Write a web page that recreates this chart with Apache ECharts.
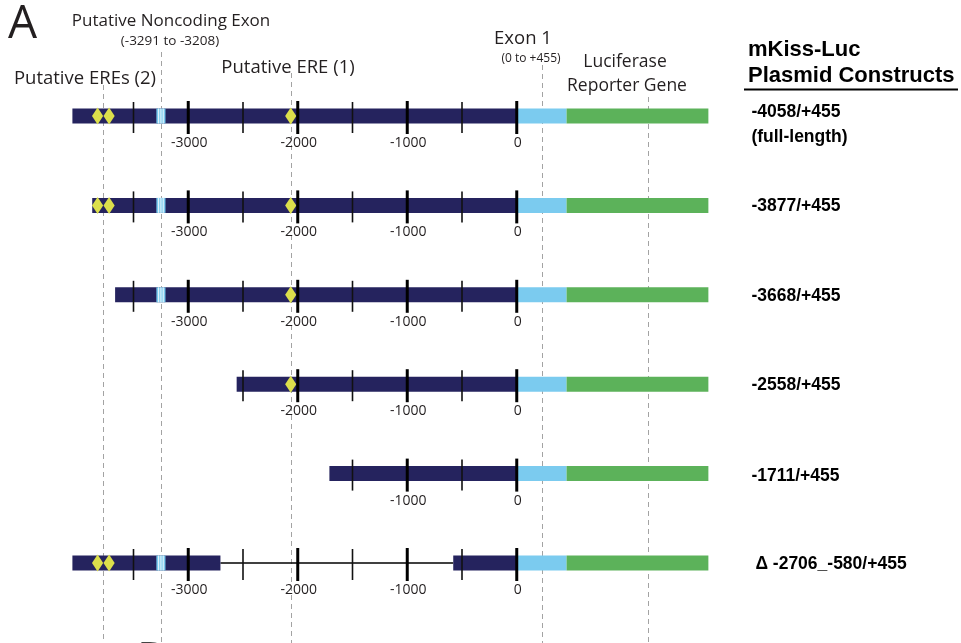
<!DOCTYPE html>
<html>
<head>
<meta charset="utf-8">
<script src="https://cdn.jsdelivr.net/npm/echarts@6/dist/echarts.min.js"></script>
<style>
  html, body { margin: 0; padding: 0; background: #ffffff; }
  #chart { width: 961px; height: 643px; }
</style>
</head>
<body>
<div id="chart"></div>
<script>
// mKiss-Luc reporter constructs; coordinates are bp relative to the transcription start
const constructNames = ['-4058/+455', '-3877/+455', '-3668/+455', '-2558/+455', '-1711/+455', 'Δ -2706_-580/+455'];
const constructNotes = ['(full-length)', '', '', '', '', ''];
const promoterStart = [-4058, -3877, -3668, -2558, -1711, -4058];
const deletionFrom = [null, null, null, null, null, -2706];
const deletionTo = [null, null, null, null, null, -580];
const exon1 = [0, 455];
const luciferaseEnd = 1750;
const noncodingExon = [-3291, -3208];
const ereSites = [-3828, -3723, -2064];
const majorTicks = [-3000, -2000, -1000, 0];
const majorTickLabels = ['-3000', '-2000', '-1000', '0'];
const minorTicks = [-3500, -2500, -1500, -500];
const reporterMark = 1200;

// guide lines marking the annotated features
const guideValues = [
  (ereSites[0] + ereSites[1]) / 2,
  (noncodingExon[0] + noncodingExon[1]) / 2,
  ereSites[2],
  (exon1[0] + exon1[1]) / 2,
  reporterMark
];

// styling
const NAVY = '#25235e';
const SKY = '#7bcbef';
const GREEN = '#5cb25a';
const YELLOW = '#dcdf4b';
const INK = '#231f20';
const GUIDE = '#a3a3a3';
const guideTops = [85, 52, 73, 65, 97];
const BAR_H = 15;

const chart = echarts.init(document.getElementById('chart'), null, { renderer: 'canvas' });

function renderGuide(params, api) {
  const x = Math.round(api.coord([api.value(0), 0])[0]) + 0.5;
  return {
    type: 'line',
    shape: { x1: x, y1: guideTops[params.dataIndex], x2: x, y2: api.getHeight() },
    style: { stroke: GUIDE, lineWidth: 1, lineDash: [5, 4] }
  };
}

function renderConstruct(params, api) {
  const i = api.value(1);
  const start = api.value(0);
  const px = v => api.coord([v, i])[0];
  const cy = api.coord([0, i])[1];
  const kids = [];
  const box = (a, b, fill) => ({
    type: 'rect',
    shape: { x: px(a), y: cy - BAR_H / 2, width: px(b) - px(a), height: BAR_H },
    style: { fill: fill }
  });
  const delA = deletionFrom[i];
  const delB = deletionTo[i];
  const deleted = v => delA != null && v > delA && v < delB;

  if (delA != null) {
    kids.push({
      type: 'line',
      shape: { x1: px(delA), y1: cy, x2: px(delB), y2: cy },
      style: { stroke: '#000', lineWidth: 1.3 }
    });
    kids.push(box(start, delA, NAVY), box(delB, exon1[0], NAVY));
  } else {
    kids.push(box(start, exon1[0], NAVY));
  }
  kids.push(box(exon1[0], exon1[1], SKY), box(exon1[1], luciferaseEnd, GREEN));

  // putative noncoding exon, striped
  if (noncodingExon[0] >= start && !deleted(noncodingExon[0])) {
    kids.push(box(noncodingExon[0], noncodingExon[1], SKY));
    const a = px(noncodingExon[0]);
    const w = px(noncodingExon[1]) - a;
    [0.25, 0.5, 0.75].forEach(f => {
      kids.push({
        type: 'line',
        shape: { x1: a + w * f, y1: cy - BAR_H / 2, x2: a + w * f, y2: cy + BAR_H / 2 },
        style: { stroke: '#ffffff', lineWidth: 0.9 }
      });
    });
  }

  // putative EREs
  ereSites.forEach(v => {
    if (v - 40 >= start && !deleted(v)) {
      const x = px(v);
      kids.push({
        type: 'polygon',
        shape: { points: [[x, cy - 8.5], [x + 5.6, cy], [x, cy + 8.5], [x - 5.6, cy]] },
        style: { fill: YELLOW }
      });
    }
  });

  // scale ticks
  minorTicks.forEach(v => {
    if (v >= start) {
      const x = px(v);
      kids.push({
        type: 'line',
        shape: { x1: x, y1: cy - 14, x2: x, y2: cy + 17 },
        style: { stroke: '#111', lineWidth: 1.6 }
      });
    }
  });
  majorTicks.forEach((v, k) => {
    if (v >= start) {
      const x = px(v);
      kids.push({
        type: 'line',
        shape: { x1: x, y1: cy - 15, x2: x, y2: cy + 18 },
        style: { stroke: '#000', lineWidth: 3 }
      });
      kids.push({
        type: 'text',
        x: x + 1, y: cy + 27,
        style: {
          text: majorTickLabels[k], fill: INK,
          font: '14px "Open Sans"', align: 'center', verticalAlign: 'middle'
        }
      });
    }
  });

  // construct name
  const lx = px(luciferaseEnd) + 43 + (constructNames[i].startsWith('Δ') ? 4 : 0);
  const note = constructNotes[i];
  kids.push({
    type: 'text',
    x: lx, y: cy + (note ? -4 : 1) + (i === 4 ? 2 : 0),
    style: {
      text: constructNames[i], fill: '#000',
      font: 'bold 17.5px "Liberation Sans"', align: 'left', verticalAlign: 'middle'
    }
  });
  if (note) {
    kids.push({
      type: 'text',
      x: lx, y: cy + 21,
      style: {
        text: note, fill: '#000',
        font: 'bold 17.5px "Liberation Sans"', align: 'left', verticalAlign: 'middle'
      }
    });
  }
  return { type: 'group', children: kids };
}

const annFont = sz => sz + 'px "Open Sans"';
const annotations = [
  { text: 'A', x: 8, y: 25, size: 46, weight: 400, align: 'left' },
  { text: 'Putative Noncoding Exon', x: 171, y: 21, size: 17 },
  { text: '(-3291 to -3208)', x: 170, y: 41.5, size: 13.5 },
  { text: 'Putative EREs (2)', x: 85, y: 78.5, size: 18.5 },
  { text: 'Putative ERE (1)', x: 288, y: 68, size: 18.5 },
  { text: 'Exon 1', x: 523, y: 38.5, size: 18.5 },
  { text: '(0 to +455)', x: 531, y: 59, size: 12 },
  { text: 'Luciferase', x: 625, y: 62, size: 17.5 },
  { text: 'Reporter Gene', x: 627, y: 86, size: 17.5 }
];

const graphics = annotations.map(a => ({
  type: 'text',
  x: a.x, y: a.y,
  style: {
    text: a.text, fill: INK,
    font: (a.weight ? a.weight + ' ' : '') + annFont(a.size),
    align: a.align || 'center', verticalAlign: 'middle'
  }
}));
graphics.push(
  {
    type: 'text', x: 748, y: 50,
    style: { text: 'mKiss-Luc', fill: '#000', font: 'bold 22px "Liberation Sans"', align: 'left', verticalAlign: 'middle' }
  },
  {
    type: 'text', x: 748, y: 76,
    style: { text: 'Plasmid Constructs', fill: '#000', font: 'bold 22px "Liberation Sans"', align: 'left', verticalAlign: 'middle' }
  },
  {
    type: 'line',
    shape: { x1: 744, y1: 89.5, x2: 958, y2: 89.5 },
    style: { stroke: '#000', lineWidth: 1.8 }
  },
  {
    type: 'text', x: 137, y: 639,
    style: { text: 'B', fill: '#444', font: '300 44px "Open Sans"', align: 'left', verticalAlign: 'top' }
  }
);

chart.setOption({
  animation: false,
  backgroundColor: '#ffffff',
  grid: { left: 24, width: 876, top: 71.3, height: 536.4 },
  xAxis: {
    type: 'value', min: -4500, max: 3500,
    show: false
  },
  yAxis: {
    type: 'category', data: constructNames, inverse: true,
    show: false
  },
  graphic: graphics,
  series: [
    {
      type: 'custom',
      name: 'guides',
      renderItem: renderGuide,
      data: guideValues.map(v => [v, 0]),
      encode: { x: 0 },
      clip: false,
      silent: true,
      z: 1
    },
    {
      type: 'custom',
      name: 'constructs',
      renderItem: renderConstruct,
      data: promoterStart.map((s, i) => [s, i]),
      encode: { x: 0, y: 1 },
      clip: false,
      z: 2
    }
  ]
});
</script>
</body>
</html>
